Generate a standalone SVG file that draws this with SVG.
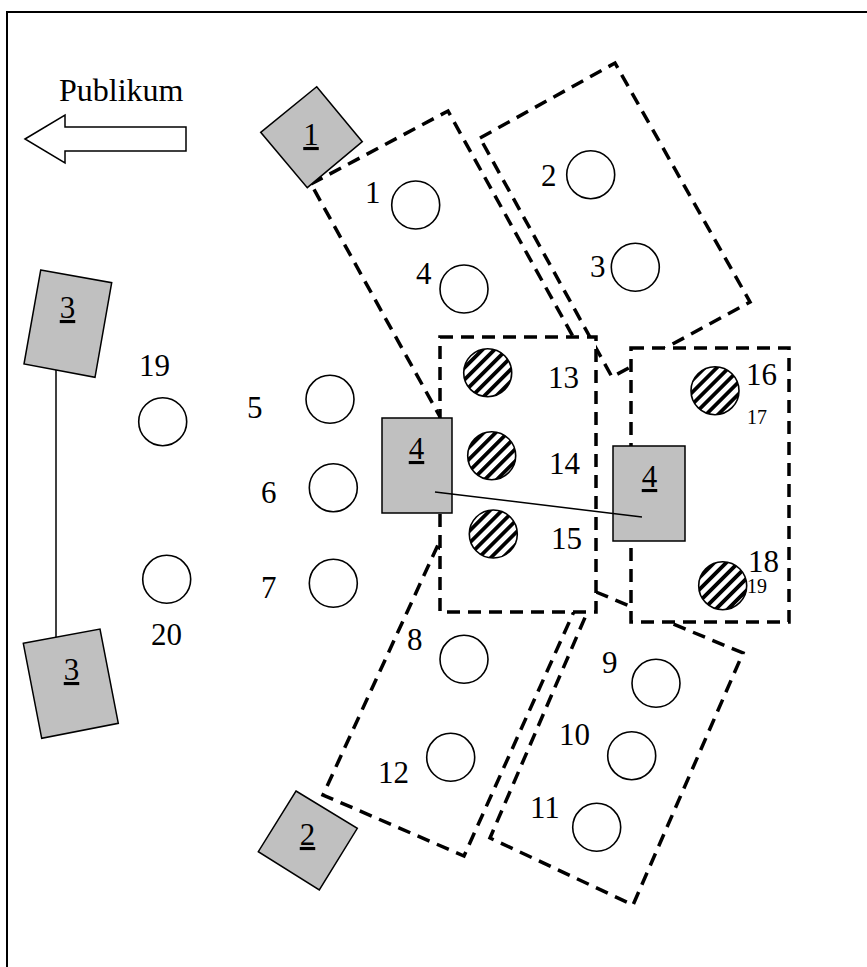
<svg xmlns="http://www.w3.org/2000/svg" width="867" height="967" viewBox="0 0 867 967">
<style>
text{font-family:"Liberation Serif","Times New Roman",serif;fill:#000}
.lbl{font-size:31px}
.sm{font-size:20px}
.pub{font-size:32px}
.box{fill:#c0c0c0;stroke:#000;stroke-width:1.5}
.zone{fill:#fff;stroke:#000;stroke-width:3.5;stroke-dasharray:13 8}
.c{fill:#fff;stroke:#000;stroke-width:1.6}
.h{fill:url(#hatch);stroke:#000;stroke-width:1.6}
.u{text-decoration:underline;font-size:31px;text-anchor:middle}
.ln{stroke:#000;stroke-width:1.5;fill:none}
</style>
<defs>
<pattern id="hatch" patternUnits="userSpaceOnUse" width="8.5" height="8.5" patternTransform="rotate(45)">
<rect width="8.5" height="8.5" fill="#fff"/>
<rect x="0" y="0" width="3.8" height="8.5" fill="#000"/>
</pattern>
</defs>
<rect width="867" height="967" fill="#fff"/>
<g id="frame">
<path d="M7,967 V12 H867" fill="none" stroke="#000" stroke-width="2"/>
</g>
<g id="publikum">
<polygon points="25,139 65,115 65,127 186,127 186,151 65,151 65,163" fill="#fff" stroke="#000" stroke-width="1.5"/>
<text class="pub" x="59" y="101">Publikum</text>
</g>
<g id="zones">
<polygon id="zoneC" class="zone" points="311,184 448,111 581,351 444,424"/>
<polygon id="zoneD" class="zone" points="480,138 615,63 750,302 612,377"/>
<polygon id="zoneE" class="zone" points="437,547 576,607 464,856 323,795"/>
<polygon id="zoneF" class="zone" points="596,592 743,653 633,905 490,838"/>
<rect id="zoneA" class="zone" x="440" y="337" width="156" height="275"/>
<rect id="zoneB" class="zone" x="631" y="348" width="158" height="274"/>
</g>
<g id="performers">
<g id="p1"><circle class="c" cx="415.7" cy="205" r="24"/><text class="lbl" x="365" y="203">1</text></g>
<g id="p2"><circle class="c" cx="590.7" cy="174.7" r="24"/><text class="lbl" x="541" y="186">2</text></g>
<g id="p3"><circle class="c" cx="635.3" cy="267.3" r="24"/><text class="lbl" x="590" y="277">3</text></g>
<g id="p4"><circle class="c" cx="464" cy="289" r="24"/><text class="lbl" x="416" y="284">4</text></g>
<g id="p5"><circle class="c" cx="330" cy="399.3" r="24"/><text class="lbl" x="247" y="418">5</text></g>
<g id="p6"><circle class="c" cx="333.3" cy="487.7" r="24"/><text class="lbl" x="261" y="503">6</text></g>
<g id="p7"><circle class="c" cx="333.3" cy="583.3" r="24"/><text class="lbl" x="261" y="598">7</text></g>
<g id="p8"><circle class="c" cx="464" cy="659.3" r="24"/><text class="lbl" x="407" y="650">8</text></g>
<g id="p9"><circle class="c" cx="656" cy="683.3" r="24"/><text class="lbl" x="602" y="673">9</text></g>
<g id="p10"><circle class="c" cx="631.7" cy="755.7" r="24"/><text class="lbl" x="559" y="745">10</text></g>
<g id="p11"><circle class="c" cx="596.7" cy="827.3" r="24"/><text class="lbl" x="530" y="818">11</text></g>
<g id="p12"><circle class="c" cx="450.7" cy="757.3" r="24"/><text class="lbl" x="378" y="783">12</text></g>
<g id="p13"><circle class="h" cx="487.7" cy="372.7" r="24"/><text class="lbl" x="548" y="388">13</text></g>
<g id="p14"><circle class="h" cx="491.7" cy="455.7" r="24"/><text class="lbl" x="549" y="474">14</text></g>
<g id="p15"><circle class="h" cx="493.3" cy="534" r="24"/><text class="lbl" x="551" y="549">15</text></g>
<g id="p16"><circle class="h" cx="715" cy="390.7" r="24"/><text class="lbl" x="746" y="385">16</text><text class="sm" x="747" y="424">17</text></g>
<g id="p18"><circle class="h" cx="722.7" cy="585.7" r="24"/><text class="lbl" x="748" y="572">18</text><text class="sm" x="747" y="593">19</text></g>
<g id="p19"><circle class="c" cx="162.7" cy="421.7" r="24"/><text class="lbl" x="139" y="376">19</text></g>
<g id="p20"><circle class="c" cx="166.7" cy="579.3" r="24"/><text class="lbl" x="151" y="645">20</text></g>
</g>
<g id="connectors">
<line class="ln" x1="56" y1="370" x2="56" y2="638"/>
</g>
<g id="box1"><polygon class="box" points="316.7,86.7 362.3,141.7 307.3,187.7 260.7,132.3"/><text class="u" x="311" y="145">1</text></g>
<g id="box2"><polygon class="box" points="296,791 357.3,828.3 319.3,890 258.3,851.7"/><text class="u" x="307.5" y="845">2</text></g>
<g id="box3a"><polygon class="box" points="40.7,270 111.7,282.7 95,377.3 24,364"/><text class="u" x="67.5" y="318">3</text></g>
<g id="box3b"><polygon class="box" points="23.3,643.3 100,629 118.3,723.3 41.7,738.3"/><text class="u" x="71.5" y="680">3</text></g>
<g id="box4a"><rect class="box" x="382" y="418" width="70" height="95"/><text class="u" x="416.5" y="459">4</text></g>
<g id="box4b"><rect class="box" x="613" y="446" width="72" height="95"/><text class="u" x="649.5" y="487">4</text></g>
<g id="link4">
<line class="ln" x1="435" y1="492" x2="642" y2="517"/>
</g>
</svg>
